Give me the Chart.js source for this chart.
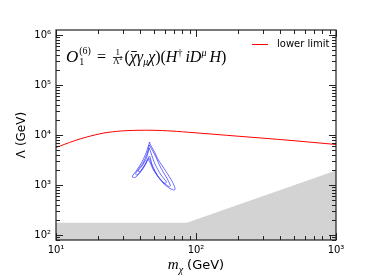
<!DOCTYPE html>
<html>
<head>
<meta charset="utf-8">
<script src="https://cdn.jsdelivr.net/npm/chart.js@4/dist/chart.umd.min.js"></script>
<style>
  body { margin: 0; background: #fff; }
  canvas { display: block; }
</style>
</head>
<body>
<canvas id="chart" width="374" height="280"></canvas>
<script>
// Lower limit on Lambda (red line)
const massLimit = [10, 13.4, 16.6, 22.0, 29.1, 37.9, 50.1, 66.3, 96.8, 166, 291, 501, 1000];
const lambdaLimit = [5620, 7590, 9120, 10960, 12020, 12410, 12410, 12020, 11120, 9860, 8710, 7690, 6460];

// Excluded region (grey)
const massExcluded = [10, 86, 1000];
const lambdaExcluded = [176, 176, 1940];

// Contours (blue), outer -> inner, closed loops
const massOuter = [46.6, 44.3, 41.1, 37.9, 35.5, 35.1, 36.6, 39.1, 42.5, 45.1, 46.6, 48.5, 52.6, 58.1, 65.2, 70.2, 70.8, 67.9, 61.1, 53.9, 49.7, 47.3, 46.6];
const lambdaOuter = [7240, 4570, 2880, 2000, 1580, 1445, 1410, 1660, 2290, 3160, 3800, 2510, 1585, 1096, 851, 794, 871, 1148, 1862, 3162, 5012, 6310, 7240];
const massMiddle = [46.4, 44.7, 41.8, 38.5, 37.0, 37.9, 40.5, 43.6, 45.8, 46.7, 49.3, 53.5, 59.0, 64.1, 65.7, 62.1, 55.7, 50.9, 47.7, 46.4];
const lambdaMiddle = [6310, 4170, 2750, 2000, 1660, 1585, 1905, 2630, 3470, 3310, 2290, 1510, 1096, 933, 977, 1349, 2291, 3981, 5500, 6310];
const massInner = [46.3, 44.3, 41.1, 38.5, 39.8, 42.5, 45.4, 46.8, 49.7, 54.5, 60.1, 61.5, 56.2, 50.9, 47.7, 46.3];
const lambdaInner = [5500, 3470, 2400, 1905, 1860, 2400, 3240, 2880, 1995, 1380, 1072, 1148, 1585, 2630, 4370, 5500];

// Axis ticks
const xDecades = [10, 100, 1000];
const xTickLabels = ['10¹', '10²', '10³'];
const yDecades = [100, 1000, 10000, 100000, 1000000];
const yTickLabels = ['10²', '10³', '10⁴', '10⁵', '10⁶'];

const toPoints = (xs, ys) => xs.map((v, i) => ({ x: v, y: ys[i] }));
const isDecade = v => Math.abs(Math.log10(v) - Math.round(Math.log10(v))) < 1e-9;

function logTicks(min, max) {
    const ticks = [];
    for (let e = Math.floor(Math.log10(min)); e <= Math.ceil(Math.log10(max)); e++) {
        for (let m = 1; m < 10; m++) {
            const v = m * Math.pow(10, e);
            if (v >= min * 0.9999 && v <= max * 1.0001) ticks.push({ value: v });
        }
    }
    return ticks;
}

const SERIF = '"Liberation Serif", "DejaVu Serif", serif';
const SANS = '"DejaVu Sans", sans-serif';

// draws text pieces left to right, returns end x
function drawRun(ctx, x, y, parts, measureOnly) {
    parts.forEach(p => {
        ctx.font = p.font;
        const w = ctx.measureText(p.t).width;
        if (!measureOnly) {
            ctx.fillText(p.t, x, y + (p.dy || 0));
            if (p.bar) {
                ctx.fillRect(x + 1.5, y - 11, w - 1.5, 0.9);
            }
        }
        x += w + (p.gap || 0);
    });
    return x;
}

const extras = {
    id: 'extras',
    afterDatasetsDraw(chart) {
        const { ctx, chartArea: a, scales: { x, y } } = chart;
        ctx.save();

        // inward ticks on all four sides
        ctx.strokeStyle = '#222';
        ctx.lineWidth = 1;
        ctx.beginPath();
        x.ticks.forEach(t => {
            const px = Math.round(x.getPixelForValue(t.value)) + 0.5;
            const len = isDecade(t.value) ? 7 : 4;
            ctx.moveTo(px, a.bottom); ctx.lineTo(px, a.bottom - len);
            ctx.moveTo(px, a.top); ctx.lineTo(px, a.top + len);
        });
        y.ticks.forEach(t => {
            const py = Math.round(y.getPixelForValue(t.value)) + 0.5;
            const len = isDecade(t.value) ? 7 : 4;
            ctx.moveTo(a.left, py); ctx.lineTo(a.left + len, py);
            ctx.moveTo(a.right, py); ctx.lineTo(a.right - len, py);
        });
        ctx.stroke();
        ctx.lineWidth = 1.2;
        ctx.strokeRect(a.left, a.top, a.right - a.left, a.bottom - a.top);

        // legend
        const red = chart.data.datasets[0];
        const ly = a.top + 14;
        ctx.strokeStyle = red.borderColor;
        ctx.lineWidth = 1;
        ctx.beginPath();
        ctx.moveTo(a.right - 84, ly + 0.5);
        ctx.lineTo(a.right - 68, ly + 0.5);
        ctx.stroke();
        ctx.fillStyle = '#000';
        ctx.font = '10px ' + SANS;
        ctx.textBaseline = 'middle';
        ctx.fillText(red.label, a.right - 59, ly);

        // operator annotation
        ctx.textBaseline = 'alphabetic';
        const by = a.top + 32;
        let cx = a.left + 10;
        ctx.font = 'italic 17px ' + SERIF;
        ctx.fillText('O', cx, by);
        cx += ctx.measureText('O').width + 1;
        ctx.font = '10px ' + SERIF;
        ctx.fillText('1', cx, by + 3);
        ctx.fillText('(6)', cx, by - 8);
        cx += ctx.measureText('(6)').width + 6;
        cx = drawRun(ctx, cx, by, [{ t: '=', font: '16px ' + SERIF, gap: 7 }]);
        // fraction 1 / Lambda^2
        ctx.font = '9px ' + SERIF;
        const wL = ctx.measureText('Λ').width;
        ctx.font = '6px ' + SERIF;
        const wDen = wL + ctx.measureText('2').width;
        drawRun(ctx, cx, by + 2, [
            { t: 'Λ', font: '9px ' + SERIF },
            { t: '2', font: '6px ' + SERIF, dy: -4 }
        ]);
        ctx.fillRect(cx, by - 5, wDen, 0.8);
        ctx.font = '9px ' + SERIF;
        ctx.fillText('1', cx + (wDen - ctx.measureText('1').width) / 2, by - 7);
        cx += wDen + 2;
        const it = 'italic 16px ' + SERIF, rm = '16px ' + SERIF;
        const itS = 'italic 10px ' + SERIF, rmS = '10px ' + SERIF;
        drawRun(ctx, cx, by, [
            { t: '(', font: rm },
            { t: 'χ', font: it, bar: true },
            { t: 'γ', font: it },
            { t: 'μ', font: itS, dy: 3 },
            { t: 'χ', font: it },
            { t: ')(', font: rm },
            { t: 'H', font: it },
            { t: '†', font: rmS, dy: -6, gap: 3 },
            { t: 'i', font: it },
            { t: 'D', font: it },
            { t: 'μ', font: itS, dy: -6, gap: 3 },
            { t: 'H', font: it },
            { t: ')', font: rm }
        ]);

        // x axis title
        const title = [
            { t: 'm', font: 'italic 15px ' + SERIF },
            { t: 'χ', font: 'italic 10px ' + SERIF, dy: 4, gap: 4 },
            { t: '(GeV)', font: '13px ' + SANS }
        ];
        const tw = drawRun(ctx, 0, 0, title, true);
        drawRun(ctx, (a.left + a.right) / 2 - tw / 2, a.bottom + 29, title);

        ctx.restore();
    }
};

const blue = 'rgba(70,70,250,0.8)';

new Chart(document.getElementById('chart'), {
    type: 'scatter',
    data: {
        datasets: [
            {
                label: 'lower limit',
                data: toPoints(massLimit, lambdaLimit),
                showLine: true,
                borderColor: '#ff0000',
                borderWidth: 1,
                pointRadius: 0,
                tension: 0.3,
                order: 1
            },
            {
                label: 'excluded',
                data: toPoints(massExcluded, lambdaExcluded),
                showLine: true,
                borderWidth: 0,
                borderColor: 'rgba(0,0,0,0)',
                backgroundColor: '#d3d3d3',
                fill: 'start',
                pointRadius: 0,
                order: 3
            },
            {
                label: 'outer',
                data: toPoints(massOuter, lambdaOuter),
                showLine: true,
                borderColor: blue,
                borderWidth: 1,
                pointRadius: 0,
                tension: 0.25,
                order: 2
            },
            {
                label: 'middle',
                data: toPoints(massMiddle, lambdaMiddle),
                showLine: true,
                borderColor: blue,
                borderWidth: 1,
                pointRadius: 0,
                tension: 0.25,
                order: 2
            },
            {
                label: 'inner',
                data: toPoints(massInner, lambdaInner),
                showLine: true,
                borderColor: blue,
                borderWidth: 1,
                pointRadius: 0,
                tension: 0.25,
                order: 2
            }
        ]
    },
    options: {
        responsive: false,
        animation: false,
        events: [],
        layout: { padding: { top: 30, right: 38, left: 0, bottom: 0 } },
        plugins: {
            legend: { display: false },
            tooltip: { enabled: false }
        },
        scales: {
            x: {
                type: 'logarithmic',
                min: 10,
                max: 1000,
                afterFit: s => { s.height = 40; },
                afterBuildTicks: s => { s.ticks = logTicks(s.min, s.max); },
                grid: { display: false, drawTicks: false },
                border: { display: false },
                ticks: {
                    autoSkip: false,
                    maxRotation: 0,
                    padding: 4,
                    color: '#000',
                    font: { family: 'DejaVu Sans', size: 10 },
                    callback: v => {
                        const i = xDecades.indexOf(v);
                        return i >= 0 ? xTickLabels[i] : '';
                    }
                }
            },
            y: {
                type: 'logarithmic',
                min: Math.pow(10, 1.9),
                max: Math.pow(10, 6.1),
                afterFit: s => { s.width = 56; },
                afterBuildTicks: s => { s.ticks = logTicks(s.min, s.max); },
                grid: { display: false, drawTicks: false },
                border: { display: false },
                title: {
                    display: true,
                    text: 'Λ (GeV)',
                    color: '#000',
                    font: { family: 'DejaVu Sans', size: 12 },
                    padding: { top: 15, bottom: 0 }
                },
                ticks: {
                    autoSkip: false,
                    padding: 5,
                    color: '#000',
                    font: { family: 'DejaVu Sans', size: 10 },
                    callback: v => {
                        const i = yDecades.indexOf(v);
                        return i >= 0 ? yTickLabels[i] : '';
                    }
                }
            }
        }
    },
    plugins: [extras]
});
</script>
</body>
</html>
